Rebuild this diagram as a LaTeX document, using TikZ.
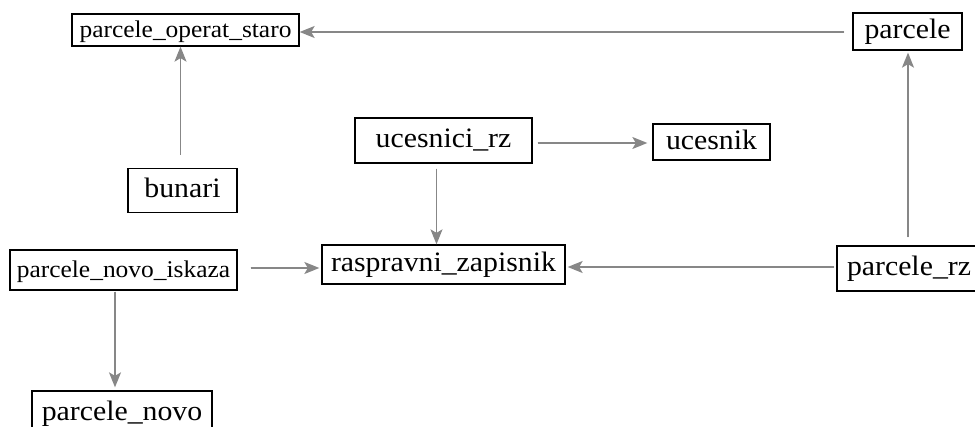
\documentclass[tikz,border=0pt]{standalone}
\usepackage{fontspec}
\setmainfont{Liberation Serif}
\usetikzlibrary{arrows.meta}
\definecolor{linkgray}{RGB}{135,135,135}
\tikzset{
  tbl/.style={draw=black, line width=1.3pt, fill=white, inner sep=0pt,
    text height=21pt, text depth=6pt},
  big/.style={tbl, font=\fontsize{28.1}{31}\selectfont},
  small/.style={tbl, font=\fontsize{24}{27}\selectfont,
    text height=19.6pt, text depth=5pt},
  arr/.style={draw=linkgray, line width=1.3pt,
    -{Stealth[length=15pt, width=12pt, inset=3.5pt]}, fill=linkgray},
}
\newcommand{\wide}[1]{\scalebox{1.06}[1]{#1}}
\begin{document}
\begin{tikzpicture}[x=1pt, y=-1pt]
\useasboundingbox (0,0) rectangle (975,427);
\clip (0,0) rectangle (975,427);

% tables
\node[small, minimum width=227pt, minimum height=32pt] (pos) at (185.5,30) {\wide{parcele\_operat\_staro}};
\node[big, minimum width=109pt, minimum height=37pt] (parcele) at (907.5,31.5) {\wide{parcele}};
\node[big, minimum width=109pt, minimum height=44pt] (bunari) at (182.5,190.5) {\wide{bunari}};
\node[big, minimum width=177pt, minimum height=45pt] (ucesnici) at (443.5,140.5) {\wide{ucesnici\_rz}};
\node[big, minimum width=117pt, minimum height=36pt] (ucesnik) at (711.5,142) {\wide{ucesnik}};
\node[big, minimum width=243pt, minimum height=39pt] (rz) at (443.5,264.5) {\wide{raspravni\_zapisnik}};
\node[small, minimum width=227pt, minimum height=40pt] (pni) at (123.5,270) {\wide{parcele\_novo\_iskaza}};
\node[big, minimum width=144pt, minimum height=45pt] (prz) at (909,268.5) {\wide{parcele\_rz}};
\node[big, minimum width=180pt, minimum height=45pt] (pnovo) at (122,413.5) {\wide{parcele\_novo}};

% references
\coordinate (a1) at ([xshift=-8pt,yshift=-0.5pt]parcele.west);
\draw[arr] (a1) -- (a1 -| pos.east);

\coordinate (a2) at ([xshift=-2pt,yshift=13pt]bunari.north);
\draw[arr] (a2) -- (a2 |- pos.south);

\coordinate (a3) at ([xshift=5pt,yshift=-2.5pt]ucesnici.east);
\draw[arr, shorten >=5pt] (a3) -- (a3 -| ucesnik.west);

\coordinate (a4) at ([xshift=-7pt,yshift=-5pt]ucesnici.south);
\draw[arr] (a4) -- (a4 |- rz.north);

\coordinate (a5) at ([xshift=13pt,yshift=2pt]pni.east);
\draw[arr, shorten >=2pt] (a5) -- (a5 -| rz.west);

\coordinate (a6) at ([xshift=-2pt,yshift=1.5pt]prz.west);
\draw[arr, shorten >=2pt] (a6) -- (a6 -| rz.east);

\coordinate (a7) at ([xshift=-1pt,yshift=8pt]prz.north);
\draw[arr, shorten >=2pt] (a7) -- (a7 |- parcele.south);

\coordinate (a8) at ([xshift=-8.5pt,yshift=-1pt]pni.south);
\draw[arr, shorten >=3pt] (a8) -- (a8 |- pnovo.north);
\end{tikzpicture}
\end{document}
